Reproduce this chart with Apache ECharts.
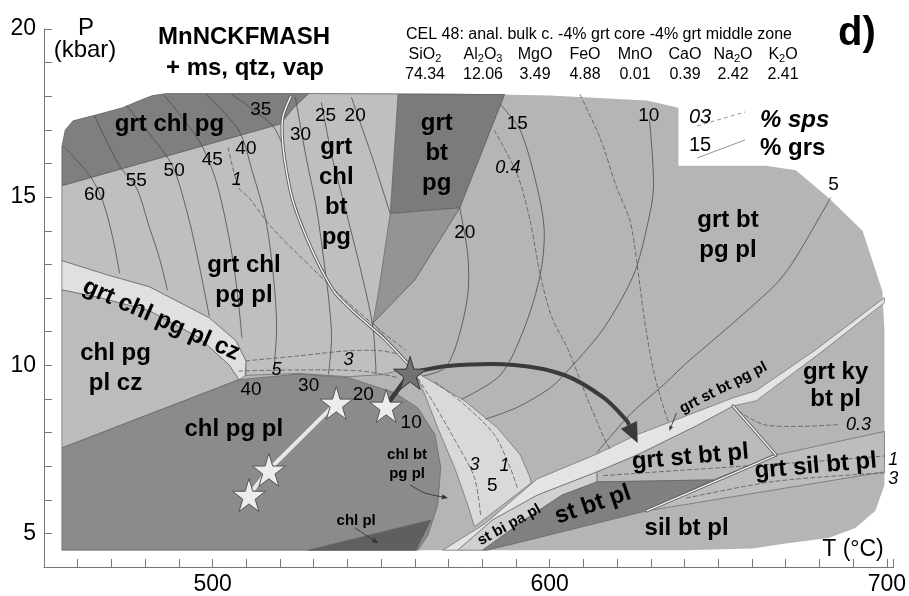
<!DOCTYPE html>
<html>
<head>
<meta charset="utf-8">
<script src="https://cdn.jsdelivr.net/npm/echarts@6/dist/echarts.min.js"></script>
<style>
html,body{margin:0;padding:0;background:#fff}
#chart{width:909px;height:596px}
</style>
</head>
<body>
<div id="chart"></div>
<script>
// axis ranges (T in °C, P in kbar)
var xTickLabels = [500, 600, 700];
var yTickLabels = [5, 10, 15, 20];

// ---- stability fields, vertices as [T, P] ----
var envelope = [[455.3,4.5],[455.3,16.5],[456.3,17.0],[458.6,17.27],[465.6,17.45],[473.3,17.66],[478.3,17.87],[482.2,18.02],[486.3,18.08],[530,18.1],[570,18.08],[600,18.02],[628.8,17.87],[638.2,17.66],[638.2,15.93],[664.2,15.93],[673,15.8],[682.7,14.98],[692.8,14.0],[698.7,12.2],[699.3,11.0],[699.3,6.44],[696.6,5.67],[690.7,5.16],[682.7,4.86],[670,4.7],[660.3,4.55],[640,4.5]];
var grtChlPg = [[455.3,15.34],[455.3,16.5],[456.3,17.0],[458.6,17.27],[465.6,17.45],[473.3,17.66],[478.3,17.87],[482.2,18.02],[486.3,18.08],[528.5,18.08],[524.0,17.66],[520.2,17.18]];
var grtChlPgPl = [[455.3,15.34],[520.2,17.18],[524,17.66],[528.5,18.08],[586.6,18.05],[573.3,14.68],[560,12.54],[547.6,11.26],[558.6,9.92],[550,9.72],[540.3,9.66],[525.5,9.76],[509.9,9.7],[509.9,10.13],[506.9,10.73],[499,11.41],[481.3,12.33],[468.6,12.69],[455.3,13.11]];
var czBand = [[455.3,13.11],[468.6,12.69],[481.3,12.33],[499,11.41],[506.9,10.73],[509.9,10.13],[509.6,9.68],[507.8,9.57],[504.9,10.01],[496,10.82],[481.3,11.62],[466.5,12.01],[455.3,12.24]];
var chlPgPlCz = [[455.3,12.24],[466.5,12.01],[481.3,11.62],[496,10.82],[504.9,10.01],[507.8,9.57],[455.3,7.54]];
var chlPgPl = [[455.3,7.54],[507.8,9.57],[525.5,9.74],[540.3,9.63],[554.1,9.18],[560.9,8.73],[566,7.93],[567.7,6.95],[566.8,5.85],[563.9,4.95],[560.9,4.5],[455.3,4.5]];
var chlPl = [[528.5,4.5],[564.8,5.4],[560.3,4.5]];
var grtBtPg = [[555,18.05],[586.6,18.05],[573.3,14.68],[552.7,14.51]];
var grtBtPgLow = [[552.7,14.51],[573.3,14.68],[560,12.54],[547.6,11.26],[549.4,12.3]];
var paleLens = [[559.4,9.92],[563,9.12],[566.8,8.14],[571.8,6.95],[575.7,5.85],[577.7,5.2],[594.5,6.5],[594.2,6.65],[591.3,7.33],[584.5,8.14],[574.8,8.94],[561.8,9.71]];
var grtStBtPl = [[614,6.83],[625.8,7.33],[643.5,8.2],[654.4,8.79],[667.1,7.33],[648.5,6.59],[614,6.53]];
var grtSilBtPl = [[628.8,5.67],[667.1,7.33],[699.3,8.03],[699.3,6.83]];
var stBiPaPl = [[572.7,4.5],[583,5.4],[596.3,6.14],[614,6.83],[614,6.53],[603.7,6.14],[593.4,5.46],[580.1,4.5]];
var stBtPl = [[580.1,4.5],[593.4,5.46],[603.7,6.14],[614,6.53],[648.5,6.59],[628.8,5.67],[596.3,4.86],[581.5,4.5]];
var grtStBtPgPl = [[568.3,4.5],[580.7,5.28],[596.3,6.62],[614,7.36],[625.8,7.93],[643.5,8.61],[654.4,9.03],[661.2,9.24],[678.9,10.46],[699.3,12.01],[699.3,11.86],[679.5,10.31],[661.2,8.94],[654.4,8.79],[643.5,8.2],[625.8,7.33],[614,6.83],[596.3,6.14],[583,5.4],[572.7,4.5]];

// ---- grossular isopleths (solid) ----
var grs60 = [[455.6,16.53],[463.6,15.64],[467.4,14.89],[470.4,13.79],[472.4,12.75]];
var grs55 = [[465,17.42],[472.4,15.93],[477.4,15.28],[481.3,14.09],[484.2,13.2],[486.6,12.24]];
var grs50 = [[474.5,17.72],[486.3,16.23],[489.2,15.67],[493.1,14.3],[496,12.99],[499,11.47]];
var grs45 = [[485.7,18.02],[496,16.68],[501,15.49],[504.9,13.79],[507.2,12.3],[508.7,10.82]];
var grs40 = [[498.1,18.05],[507.8,16.98],[511.7,15.79],[515.8,14.3],[518.1,12.6],[519,11.11],[518.1,9.74]];
var grs35 = [[505.8,18.05],[517.6,17.15],[520.5,16.62]];
var grs30 = [[524.6,17.96],[527.6,16.26],[530.8,14.68],[532.9,13.2],[534.4,12.01],[535.3,10.82],[534.4,9.74]];
var grs25 = [[532.3,17.81],[535.3,16.26],[540.3,14.3],[544.7,12.51],[547.6,11.11],[548.5,9.74]];
var grs20a = [[541.2,17.96],[547.1,16.26],[552.7,14.51]];
var grs20b = [[573.3,14.68],[575.7,13.29],[575.7,12.1],[572.7,10.73],[568.9,9.92],[562.4,9.68]];
var grs15 = [[585.4,17.75],[591.3,16.98],[596.3,15.28],[598.4,14.0],[597.2,12.69],[592.5,11.11],[585.4,9.71],[574,9.0]];
var grs10 = [[629.6,17.3],[630.8,15.28],[628.8,14.09],[624.9,12.69],[616.1,11.11],[606.1,9.92],[600.2,9.33],[590.4,8.75],[581,8.4]];
var grs5 = [[683.3,14.98],[673,13.2],[668,12.51],[661.2,11.86],[650.3,10.9],[640.6,10.07],[633.8,9.42],[624,8.55],[614,7.4]];

// ---- spessartine isopleths (dashed) ----
var sps1 = [[504.6,16.47],[507.8,15.28],[510.8,14.98],[517.6,14.09],[529.4,12.9],[540.3,11.86],[550,11.02],[557.1,10.46]];
var sps3 = [[509.9,10.13],[525.5,10.28],[540.3,10.43],[550,10.43],[555.9,10.31]];
var sps5 = [[507.8,9.83],[525.5,9.86],[544.1,9.83],[555,9.63]];
var sps3b = [[561,9.6],[565.9,8.82],[572.7,7.63],[577.7,6.65],[579.5,5.55]];
var sps1b = [[566,9.5],[574.8,8.82],[583.6,7.93],[588.3,6.95],[590.4,6.35]];
var sps04 = [[583.6,16.98],[590.4,15.67],[594.2,14.3],[597.2,12.69],[600.7,11.41],[605.2,10.52],[611.1,9.03],[616.1,7.84],[617.9,7.5]];
var spsTop = [[609,18.05],[614.9,16.77],[619.9,15.28],[623.8,14.3],[625.8,13.11],[627.9,11.5],[630.8,9.83],[633.8,8.73],[635.3,8.29]];
var sps03 = [[654.4,8.75],[664.2,8.22],[686,8.24]];
var sps1c = [[616,6.72],[650,6.95],[680,7.15],[699.3,7.3]];
var sps3c = [[640.6,6.05],[667,6.55],[699.3,6.8]];

// ---- double (narrow field) lines ----
var arcLine = [[523.2,17.99],[520.8,17.36],[520.8,16.62],[522,15.73],[524,14.83],[527.9,13.79],[532,12.9],[536.4,12.15],[543.2,11.47],[550.6,10.82],[558,10.04]];
var silLink = [[628.8,5.67],[667.1,7.33]];
var kyLink = [[654.4,8.79],[667.1,7.33]];

// ---- P-T path ----
var lightStars = [[510.8,6.14],[516.7,6.89],[536.7,8.88],[551.5,8.79]];
var darkStar = [[558.6,9.77]];
var lightPath = [[510.8,6.14],[516.7,6.89],[536.7,8.88]];
var darkPath = [[551.5,8.79],[558.6,9.77]];
var arrowPath = [[558.6,9.77],[569.8,9.98],[589.5,10.01],[604.3,9.71],[616.1,9.03],[622.9,8.35],[626.1,7.69]];
var leaderChlBt = [[558.6,6.44],[563,6.2],[569.8,6.05]];
var leaderChlPl = [[542.3,5.16],[549.1,4.71]];
var leaderGrtSt = [[637.6,8.58],[635.5,8.05]];

// ---- labels [text, T, P] ----
var fieldLabels = [
  ['grt chl pg', 487.2, 17.15], ['grt\nbt\npg', 566.5, 16.29], ['grt\nchl\nbt\npg', 536.7, 15.13],
  ['grt chl\npg pl', 509.3, 12.51], ['grt bt\npg pl', 652.9, 13.85], ['grt chl pg pl cz', 484.8, 11.35],
  ['chl pg\npl cz', 471.2, 9.92], ['chl pg pl', 506.3, 8.08], ['grt ky\nbt pl', 684.8, 9.39],
  ['grt st bt pl', 641.7, 7.27], ['grt sil bt pl', 678.9, 7.0], ['st bt pl', 612.8, 5.85], ['sil bt pl', 640.6, 5.16]
];
var smallLabels = [
  ['grt st bt pg pl', 651.5, 9.33], ['st bi pa pl', 588, 5.25], ['chl bt\npg pl', 557.7, 7.04], ['chl pl', 542.6, 5.37]
];
var grsLabels = [
  ['35', 514.3, 17.6], ['30', 526.1, 16.86], ['25', 533.5, 17.42], ['20', 542.3, 17.42], ['40', 509.9, 16.44],
  ['45', 499.9, 16.11], ['50', 488.6, 15.77], ['55', 477.4, 15.49], ['60', 465, 15.07], ['15', 590.4, 17.18],
  ['10', 629.4, 17.42], ['5', 684.2, 15.37], ['20', 574.8, 13.94], ['40', 511.4, 9.27], ['30', 528.5, 9.39],
  ['20', 544.7, 9.12], ['10', 558.9, 8.29], ['5', 583, 6.41]
];
var spsLabels = [
  ['1', 507.2, 15.52], ['0.4', 587.6, 15.88], ['5', 519, 9.86], ['3', 540.3, 10.16], ['3', 577.7, 7.04],
  ['1', 586.6, 7.01], ['0.3', 691.6, 8.23], ['1', 701.9, 7.18], ['3', 701.9, 6.62]
];
var oxides = [['SiO', '2', ''], ['Al', '2', 'O', '3'], ['MgO'], ['FeO'], ['MnO'], ['CaO'], ['Na', '2', 'O'], ['K', '2', 'O']];
var oxideValues = ['74.34', '12.06', '3.49', '4.88', '0.01', '0.39', '2.42', '2.41'];

var FONT = '"Liberation Sans", Arial, Helvetica, sans-serif';

var fieldTable = [
  { pts: envelope, fill: '#b5b5b5', stroke: 'none' },
  { pts: grtChlPgPl, fill: '#bfbfbf' },
  { pts: grtChlPg, fill: '#7f7f7f' },
  { pts: czBand, fill: '#e0e0e0' },
  { pts: chlPgPlCz, fill: '#bcbcbc' },
  { pts: chlPgPl, fill: '#8b8b8b' },
  { pts: chlPl, fill: '#5f5f5f' },
  { pts: grtBtPg, fill: '#7b7b7b' },
  { pts: grtBtPgLow, fill: '#949494' },
  { pts: paleLens, fill: '#d9d9d9' },
  { pts: grtStBtPl, fill: '#bababa' },
  { pts: grtSilBtPl, fill: '#bdbdbd' },
  { pts: stBiPaPl, fill: '#d0d0d0' },
  { pts: stBtPl, fill: '#808080' },
  { pts: grtStBtPgPl, fill: '#e4e4e4' }
];

var lineTable = [];
[grs60, grs55, grs50, grs45, grs40, grs35, grs30, grs25, grs20a, grs20b, grs15, grs10, grs5].forEach(function (l) {
  lineTable.push({ pts: l, color: '#4a4a4a', width: 0.8 });
});
[sps1, sps3, sps5, sps3b, sps1b, sps04, spsTop, sps03, sps1c, sps3c].forEach(function (l) {
  lineTable.push({ pts: l, color: '#555', width: 0.8, dash: [4, 3] });
});
[arcLine, silLink, kyLink].forEach(function (l) {
  lineTable.push({ pts: l, color: '#5a5a5a', width: 3.2 });
  lineTable.push({ pts: l, color: '#f4f4f4', width: 1.4 });
});
lineTable.push({ pts: lightPath, color: '#8a8a8a', width: 6 });
lineTable.push({ pts: lightPath, color: '#e8e8e8', width: 4, sharp: true });
lineTable.push({ pts: darkPath, color: '#3a3a3a', width: 4.5, sharp: true });

var arrowTable = [
  { pts: arrowPath, color: '#3a3a3a', width: 4, head: 20, half: 9 },
  { pts: leaderChlBt, color: '#333', width: 0.9, head: 6, half: 2.5 },
  { pts: leaderChlPl, color: '#333', width: 0.9, head: 6, half: 2.5 },
  { pts: leaderGrtSt, color: '#333', width: 0.9, head: 5, half: 2 }
];

var labelAngles = { 'grt chl pg pl cz': -24, 'st bt pl': 19, 'grt st bt pg pl': 27, 'st bi pa pl': 29, 'grt st bt pl': 5, 'grt sil bt pl': 5 };
var textTable = [];
fieldLabels.forEach(function (l) {
  textTable.push({ text: l[0], x: l[1], y: l[2], size: 24, weight: 'bold', lh: l[0] === 'grt ky\nbt pl' ? 27 : 30, rot: labelAngles[l[0]] || 0 });
});
smallLabels.forEach(function (l) {
  textTable.push({ text: l[0], x: l[1], y: l[2], size: 15, weight: 'bold', lh: 19, rot: labelAngles[l[0]] || 0 });
});
grsLabels.forEach(function (l) {
  textTable.push({ text: l[0], x: l[1], y: l[2], size: 19, weight: 'normal', lh: 20, rot: 0 });
});
spsLabels.forEach(function (l) {
  textTable.push({ text: l[0], x: l[1], y: l[2], size: 18, weight: 'normal', italic: true, lh: 20, rot: 0 });
});

function toPx(pts, api) {
  return pts.map(function (p) { return api.coord(p); });
}

function layer(items, z, build) {
  return {
    type: 'custom', z: z, silent: true, clip: false, animation: false,
    data: items.map(function (it, i) { return [450, 4, i]; }),
    renderItem: function (params, api) { return build(items[params.dataIndex], api); }
  };
}

var starPath = 'path://M50,0 L61,35 L98,35 L68,57 L79,91 L50,70 L21,91 L32,57 L2,35 L39,35 Z';

// rich text for oxide formulas
var oxideRich = { n: { fontSize: 16, fontFamily: FONT, color: '#000' }, s: { fontSize: 11, fontFamily: FONT, color: '#000', verticalAlign: 'bottom', padding: [7, 0, 0, 0] } };
function formula(parts) {
  var out = '';
  parts.forEach(function (p, i) {
    if (p === '') return;
    out += (/^[0-9]$/.test(p) ? '{s|' : '{n|') + p + '}';
  });
  return out;
}
var oxideX = [425, 483, 535, 585, 635, 685, 733, 783];
var graphics = [
  { type: 'text', left: 'center', x: 0, style: {} }
];
graphics = [];
graphics.push({ type: 'text', x: 244, y: 37, style: { text: 'MnNCKFMASH', font: 'bold 24px ' + FONT, fill: '#000', align: 'center', verticalAlign: 'middle' } });
graphics.push({ type: 'text', x: 245, y: 68, style: { text: '+ ms, qtz, vap', font: 'bold 24px ' + FONT, fill: '#000', align: 'center', verticalAlign: 'middle' } });
graphics.push({ type: 'text', x: 86, y: 28, style: { text: 'P', font: '24px ' + FONT, fill: '#000', align: 'center', verticalAlign: 'middle' } });
graphics.push({ type: 'text', x: 85, y: 50, style: { text: '(kbar)', font: '24px ' + FONT, fill: '#000', align: 'center', verticalAlign: 'middle' } });
graphics.push({ type: 'text', x: 853, y: 550, style: { text: 'T (°C)', font: '23px ' + FONT, fill: '#000', align: 'center', verticalAlign: 'middle' } });
graphics.push({ type: 'text', x: 857, y: 34, style: { text: 'd)', font: 'bold 40px ' + FONT, fill: '#000', align: 'center', verticalAlign: 'middle' } });
graphics.push({ type: 'text', x: 599, y: 35, style: { text: 'CEL 48: anal. bulk c. -4% grt core -4% grt middle zone', font: '16px ' + FONT, fill: '#000', align: 'center', verticalAlign: 'middle' } });
oxides.forEach(function (o, i) {
  graphics.push({ type: 'text', x: oxideX[i], y: 55, style: { text: formula(o), rich: oxideRich, align: 'center', verticalAlign: 'middle' } });
  graphics.push({ type: 'text', x: oxideX[i], y: 75, style: { text: oxideValues[i], font: '16px ' + FONT, fill: '#000', align: 'center', verticalAlign: 'middle' } });
});
// key for the isopleths
graphics.push({ type: 'line', shape: { x1: 697, y1: 126, x2: 745, y2: 112 }, style: { stroke: '#777', lineWidth: 0.8, lineDash: [4, 3] } });
graphics.push({ type: 'line', shape: { x1: 697, y1: 158, x2: 745, y2: 140 }, style: { stroke: '#777', lineWidth: 0.8 } });
graphics.push({ type: 'text', x: 700, y: 117, style: { text: '03', font: 'italic 20px ' + FONT, fill: '#000', align: 'center', verticalAlign: 'middle' } });
graphics.push({ type: 'text', x: 700, y: 145, style: { text: '15', font: '20px ' + FONT, fill: '#000', align: 'center', verticalAlign: 'middle' } });
graphics.push({ type: 'text', x: 760, y: 120, style: { text: '% sps', font: 'italic bold 24px ' + FONT, fill: '#000', align: 'left', verticalAlign: 'middle' } });
graphics.push({ type: 'text', x: 760, y: 148, style: { text: '% grs', font: 'bold 24px ' + FONT, fill: '#000', align: 'left', verticalAlign: 'middle' } });

var chart = echarts.init(document.getElementById('chart'));
var option = {
  animation: false,
  backgroundColor: '#fff',
  grid: { left: 44, right: 12, top: 29, bottom: 27 },
  xAxis: {
    type: 'value', min: 450, max: 702, interval: 10,
    axisLine: { onZero: false, lineStyle: { color: '#777', width: 1 } },
    axisTick: { inside: true, length: 8, lineStyle: { color: '#777' } },
    axisLabel: { fontSize: 23, color: '#000', fontFamily: FONT, margin: 6,
      formatter: function (v) { return xTickLabels.indexOf(v) >= 0 ? String(v) : ''; } },
    splitLine: { show: false }
  },
  yAxis: {
    type: 'value', min: 4, max: 20, interval: 1,
    axisLine: { show: true, onZero: false, lineStyle: { color: '#777', width: 1 } },
    axisTick: { show: true, inside: true, length: 8, lineStyle: { color: '#777' } },
    axisLabel: { fontSize: 23, color: '#000', fontFamily: FONT, margin: 8,
      formatter: function (v) { return yTickLabels.indexOf(v) >= 0 ? String(v) : ''; } },
    splitLine: { show: false }
  },
  graphic: graphics,
  series: [
    layer(fieldTable, 1, function (f, api) {
      return { type: 'polygon', shape: { points: toPx(f.pts, api) },
        style: { fill: f.fill, stroke: f.stroke || '#5a5a5a', lineWidth: 0.6 } };
    }),
    layer(lineTable, 2, function (l, api) {
      return { type: 'polyline', shape: { points: toPx(l.pts, api), smooth: l.sharp ? 0 : 0.3 },
        style: { fill: 'none', stroke: l.color, lineWidth: l.width, lineDash: l.dash || null, lineCap: 'round' } };
    }),
    layer(arrowTable, 3, function (a, api) {
      var pts = toPx(a.pts, api);
      var n = pts.length, tip = pts[n - 1], prev = pts[n - 2];
      var dx = tip[0] - prev[0], dy = tip[1] - prev[1], len = Math.sqrt(dx * dx + dy * dy);
      var ux = dx / len, uy = dy / len;
      var base = [tip[0] - ux * a.head, tip[1] - uy * a.head];
      var body = pts.slice(0, n - 1).concat([base]);
      return { type: 'group', children: [
        { type: 'polyline', shape: { points: body, smooth: 0.3 }, style: { fill: 'none', stroke: a.color, lineWidth: a.width } },
        { type: 'polygon', shape: { points: [tip, [base[0] - uy * a.half, base[1] + ux * a.half], [base[0] + uy * a.half, base[1] - ux * a.half]] },
          style: { fill: a.color } }
      ] };
    }),
    {
      type: 'scatter', z: 4, silent: true, data: lightStars, symbol: starPath, symbolSize: 33,
      itemStyle: { color: '#ececec', borderColor: '#555', borderWidth: 1, opacity: 1 }
    },
    {
      type: 'scatter', z: 4, silent: true, data: darkStar, symbol: starPath, symbolSize: 33,
      itemStyle: { color: '#727272', borderColor: '#333', borderWidth: 1, opacity: 1 }
    },
    layer(textTable, 5, function (t, api) {
      var c = api.coord([t.x, t.y]);
      return { type: 'text', x: c[0], y: c[1], rotation: t.rot * Math.PI / 180,
        style: { text: t.text, fontSize: t.size, fontWeight: t.weight, fontStyle: t.italic ? 'italic' : 'normal',
          fontFamily: FONT, fill: '#000', align: 'center', verticalAlign: 'middle', lineHeight: t.lh } };
    })
  ]
};
chart.setOption(option);
</script>
</body>
</html>
